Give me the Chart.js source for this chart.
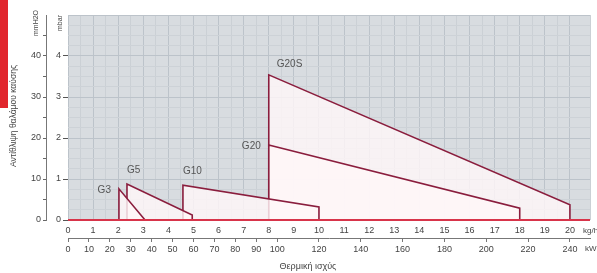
<!DOCTYPE html>
<html>
<head>
<meta charset="utf-8">
<script src="https://cdn.jsdelivr.net/npm/chart.js@4.4.1/dist/chart.umd.min.js"></script>
<style>
    html, body { margin: 0; padding: 0; background: #fff; }
    #wrap { width: 597px; height: 273px; }
</style>
</head>
<body>
<div id="wrap"><canvas id="chart" width="597" height="273"></canvas></div>
<script>
// regulator working areas: flow in kg/h, back pressure in mbar
const regulators = ['G3', 'G5', 'G10', 'G20', 'G20S'];
const flowMin = [2.03, 2.35, 4.58, 8.0, 8.0];
const flowMax = [3.07, 4.95, 10.0, 18.0, 20.0];
const pressTop = [0.76, 0.88, 0.85, 1.83, 3.54];
const pressEnd = [0.0, 0.12, 0.32, 0.29, 0.37];

// axis ticks
const kgTicks = [0, 1, 2, 3, 4, 5, 6, 7, 8, 9, 10, 11, 12, 13, 14, 15, 16, 17, 18, 19, 20];
const kwTicks = [0, 10, 20, 30, 40, 50, 60, 70, 80, 90, 100, 120, 140, 160, 180, 200, 220, 240];
const mbarTicks = [0, 1, 2, 3, 4];
const mmTicks = [0, 10, 20, 30, 40];

const KW_PER_KG = 12;
const X_MAX = 20.8;

const labelSide = ['left', 'above', 'above', 'left', 'aboveRight'];
const FONT = '"Liberation Sans", Arial, sans-serif';
const LINE = '#8a1d3d';

// one area per regulator; index 0 is drawn last (on top)
const datasets = regulators.map((name, i) => ({
    label: name,
    data: [
        { x: flowMin[i], y: 0 },
        { x: flowMin[i], y: pressTop[i] },
        { x: flowMax[i], y: pressEnd[i] },
        { x: flowMax[i], y: 0 }
    ],
    showLine: true,
    borderColor: LINE,
    borderWidth: 1.6,
    backgroundColor: 'rgba(255,246,248,0.82)',
    fill: 'origin',
    pointRadius: 0,
    tension: 0
}));

// gray plot background, red side tab, red baseline, texts outside the axes
const decor = {
    id: 'decor',
    beforeDraw(chart) {
        const { ctx, chartArea: a } = chart;
        ctx.save();
        ctx.fillStyle = '#d8dce0';
        ctx.fillRect(a.left, a.top, a.right - a.left, a.bottom - a.top);
        ctx.fillStyle = '#e1262d';
        ctx.fillRect(0, 0, 8, 108);
        ctx.restore();
    },
    afterDatasetsDraw(chart) {
        const { ctx, chartArea: a } = chart;
        ctx.save();
        ctx.strokeStyle = '#d8344a';
        ctx.lineWidth = 2;
        ctx.beginPath();
        ctx.moveTo(a.left, a.bottom);
        ctx.lineTo(a.right, a.bottom);
        ctx.stroke();
        ctx.restore();
    },
    afterDraw(chart) {
        const { ctx, scales } = chart;
        ctx.save();
        ctx.fillStyle = '#444';
        ctx.font = '8px ' + FONT;
        ctx.textBaseline = 'middle';
        ctx.textAlign = 'left';
        ctx.fillText('kg/h', 583, 231);
        ctx.fillText('kW', 585, 249);
        ctx.font = '9px ' + FONT;
        ctx.textAlign = 'center';
        ctx.fillText('Θερμική ισχύς', 308, 267);
        // rotated texts
        const rot = (txt, x, y, size) => {
            ctx.save();
            ctx.translate(x, y);
            ctx.rotate(-Math.PI / 2);
            ctx.font = size + 'px ' + FONT;
            ctx.fillText(txt, 0, 0);
            ctx.restore();
        };
        rot('Αντίθλιψη θαλάμου καύσης', 14, 116, 8.5);
        rot('mmH2O', 36, 23, 7);
        rot('mbar', 60, 23, 7);
        // regulator names
        ctx.fillStyle = '#555';
        ctx.font = '10px ' + FONT;
        regulators.forEach((name, i) => {
            const px = scales.x.getPixelForValue(flowMin[i]);
            const py = scales.y.getPixelForValue(pressTop[i]);
            if (labelSide[i] === 'left') {
                ctx.textAlign = 'right';
                ctx.fillText(name, px - 8, py + 1);
            } else if (labelSide[i] === 'above') {
                ctx.textAlign = 'left';
                ctx.fillText(name, px, py - 14);
            } else {
                ctx.textAlign = 'left';
                ctx.fillText(name, px + 8, py - 11);
            }
        });
        ctx.restore();
    }
};

const isInt = v => Math.abs(v - Math.round(v)) < 1e-6;

new Chart(document.getElementById('chart'), {
    type: 'scatter',
    data: { datasets },
    options: {
        responsive: false,
        animation: false,
        layout: { padding: { top: 15, right: 7, left: 20, bottom: 0 } },
        plugins: { legend: { display: false }, tooltip: { enabled: false } },
        scales: {
            x: {
                type: 'linear', position: 'bottom', weight: 0,
                min: 0, max: X_MAX,
                ticks: {
                    stepSize: 0.5, autoSkip: false, maxRotation: 0, padding: 5,
                    color: '#444', font: { size: 9, family: FONT },
                    callback: v => (isInt(v) && kgTicks.includes(Math.round(v))) ? Math.round(v) : ''
                },
                grid: {
                    drawTicks: false,
                    color: ctx => isInt(ctx.tick.value) ? '#bcc3ca' : '#cbd0d5',
                    lineWidth: 1
                },
                border: { display: false },
                afterFit: s => { s.height = 18; }
            },
            x2: {
                type: 'linear', position: 'bottom', weight: 1,
                min: 0, max: X_MAX * KW_PER_KG,
                afterBuildTicks: s => { s.ticks = kwTicks.map(v => ({ value: v })); },
                ticks: {
                    autoSkip: false, maxRotation: 0, padding: 2,
                    color: '#444', font: { size: 9, family: FONT }
                },
                grid: { drawOnChartArea: false, tickLength: 4, tickColor: '#777' },
                border: { color: '#777', width: 1 },
                afterFit: s => { s.height = 35; }
            },
            y: {
                type: 'linear', position: 'left', weight: 0,
                min: 0, max: 5,
                ticks: {
                    stepSize: 0.25, autoSkip: false, padding: 2,
                    color: '#444', font: { size: 9, family: FONT },
                    callback: v => (isInt(v) && mbarTicks.includes(Math.round(v))) ? Math.round(v) : ''
                },
                grid: {
                    tickLength: 5,
                    color: ctx => isInt(ctx.tick.value) ? '#bcc3ca' : '#cdd2d7',
                    tickColor: ctx => (isInt(ctx.tick.value) && ctx.tick.value <= 4) ? '#555' : 'rgba(0,0,0,0)'
                },
                border: { display: false },
                afterFit: s => { s.width = 22; }
            },
            y2: {
                type: 'linear', position: 'left', weight: 1,
                min: 0, max: 50,
                ticks: {
                    stepSize: 5, autoSkip: false, padding: 2,
                    color: '#444', font: { size: 9, family: FONT },
                    callback: v => mmTicks.includes(v) ? v : ''
                },
                grid: {
                    drawOnChartArea: false, tickLength: 3,
                    tickColor: ctx => ctx.tick.value <= 45 ? '#666' : 'rgba(0,0,0,0)'
                },
                border: { color: '#777', width: 1 },
                afterFit: s => { s.width = 26; }
            }
        }
    },
    plugins: [decor]
});
</script>
</body>
</html>
